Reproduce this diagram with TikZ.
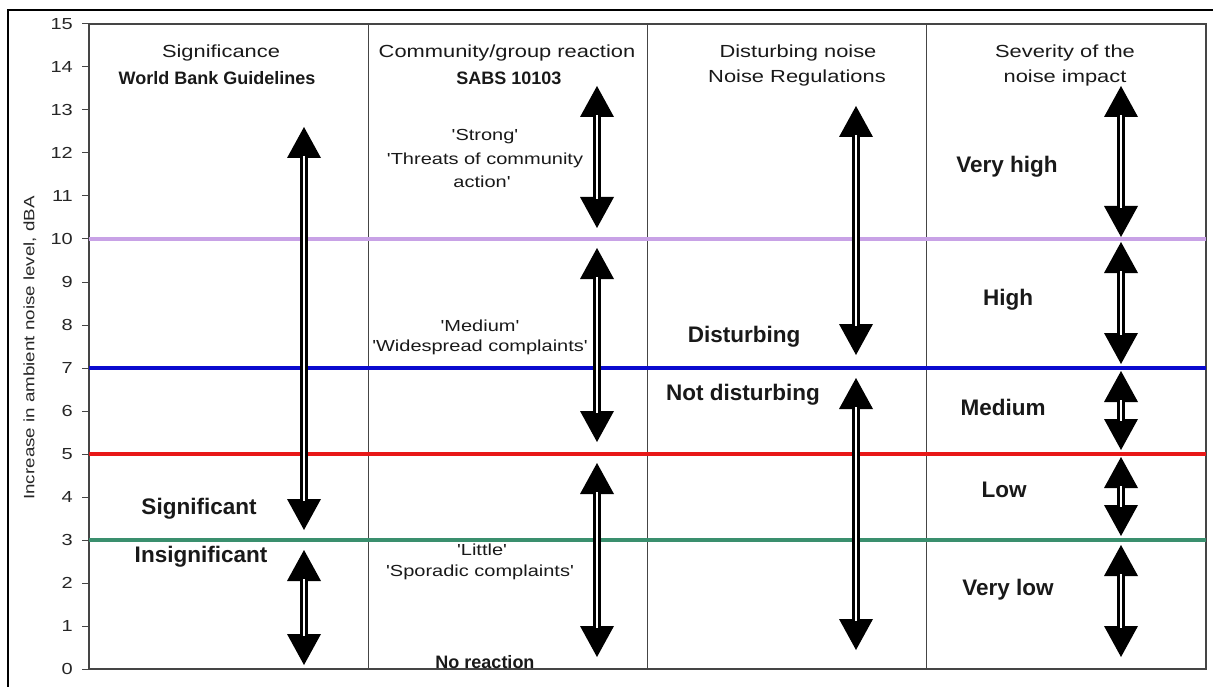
\documentclass[tikz,border=0pt]{standalone}
\usepackage{fontspec}
\setmainfont{Liberation Sans}[Ligatures=TeXOff]
\definecolor{lav}{HTML}{C8A2E6}
\definecolor{blu}{HTML}{0A0ACF}
\definecolor{red1}{HTML}{E81818}
\definecolor{grn}{HTML}{3A8F6E}
\definecolor{axisgray}{HTML}{454545}
\newcommand\wide[1]{\scalebox{1.25}[1]{#1}}
\newcommand\rangearrow[4]{%
  \coordinate (#1t) at (#2,#3);
  \coordinate (#1b) at (#2,#4);
  \fill[black] (#1t) -- ++(-17,31) -- ++(34,0) -- cycle;
  \fill[black] (#1b) -- ++(-17,-31) -- ++(34,0) -- cycle;
  \draw[shaft] ([yshift=-29pt]#1t) -- ([yshift=29pt]#1b);
}
\begin{document}
\begin{tikzpicture}[x=1pt,y=-1pt,
  every node/.style={inner sep=0pt, text=black!90},
  hdr/.style={font=\fontsize{17.5}{20}\selectfont},
  hdrb/.style={font=\fontsize{18}{20}\selectfont\bfseries},
  quote/.style={font=\fontsize{16}{18}\selectfont},
  big/.style={font=\fontsize{22.5}{25}\selectfont\bfseries},
  tick/.style={font=\fontsize{16}{18}\selectfont, anchor=east, text=black!85},
  shaft/.style={draw=black, line width=3pt, double=white, double distance=2.8pt},
  level/.style={line width=4pt},
  frameline/.style={draw=axisgray, line width=1.3pt},
  divider/.style={draw=axisgray, line width=0.9pt}]
\useasboundingbox (0,0) rectangle (1213,687);
% outer frame
\draw[line width=2pt] (8,690) -- (8,10) -- (1216,10);
% dividers
\draw[divider] (368,24) -- (368,669);
\draw[divider] (647,24) -- (647,669);
\draw[divider] (926,24) -- (926,669);
% plot frame
\draw[frameline] (89,24) rectangle (1206,669);
% ticks
\foreach \v in {0,...,15} {
  \draw[axisgray, line width=1pt] (82,669-43*\v) -- (89,669-43*\v);
  \node[tick] (t\v) at (73,669-43*\v) {\wide{\v}};
}
% axis label
\node[font=\fontsize{15}{17}\selectfont, rotate=90, text=black!85] (ylab) at (30,348) {\wide{Increase in ambient noise level, dBA}};
% level lines
\draw[level, lav] (89,239) -- (1206,239);
\draw[level, blu] (89,368) -- (1206,368);
\draw[level, red1] (89,454) -- (1206,454);
\draw[level, grn] (89,540) -- (1206,540);
% arrows
\rangearrow{a1}{304}{127}{530}
\rangearrow{a2}{304}{550}{665}
\rangearrow{b1}{597}{86}{228}
\rangearrow{b2}{597}{248}{442}
\rangearrow{b3}{597}{463}{657}
\rangearrow{c1}{856}{106}{355}
\rangearrow{c2}{856}{378}{650}
\rangearrow{d1}{1121}{86}{237}
\rangearrow{d2}{1121}{242}{364}
\rangearrow{d3}{1121}{371}{450}
\rangearrow{d4}{1121}{457}{536}
\rangearrow{d5}{1121}{545}{657}
% headers
\node[hdr] (h1a) at (221,53) {\wide{Significance}};
\node[hdrb] (h1b) at (217,78) {World Bank Guidelines};
\node[hdr] (h2a) at (507,53) {\wide{Community/group reaction}};
\node[hdrb] (h2b) at (509,78) {SABS 10103};
\node[hdr] (h3a) at (798,53) {\wide{Disturbing noise}};
\node[hdr] (h3b) at (797,78) {\wide{Noise Regulations}};
\node[hdr] (h4a) at (1065,53) {\wide{Severity of the}};
\node[hdr] (h4b) at (1065,78) {\wide{noise impact}};
% column 2 texts
\node[quote] (q1) at (485,137) {\wide{'Strong'}};
\node[quote] (q2) at (485,160) {\wide{'Threats of community}};
\node[quote] (q3) at (482,182) {\wide{action'}};
\node[quote] (q4) at (480,326) {\wide{'Medium'}};
\node[quote] (q5) at (480,347) {\wide{'Widespread complaints'}};
\node[quote] (q6) at (482,550) {\wide{'Little'}};
\node[quote] (q7) at (480,572) {\wide{'Sporadic complaints'}};
\node[hdrb] (q8) at (485,662) {No reaction};
% big labels
\node[big] (s1) at (199,509) {Significant};
\node[big] (s2) at (201,557) {Insignificant};
\node[big] (n1) at (744,337) {Disturbing};
\node[big] (n2) at (743,395) {Not disturbing};
\node[big] (v1) at (1007,167) {Very high};
\node[big] (v2) at (1008,300) {High};
\node[big] (v3) at (1003,407) {Medium};
\node[big] (v4) at (1004,490) {Low};
\node[big] (v5) at (1008,590) {Very low};
\end{tikzpicture}
\end{document}
